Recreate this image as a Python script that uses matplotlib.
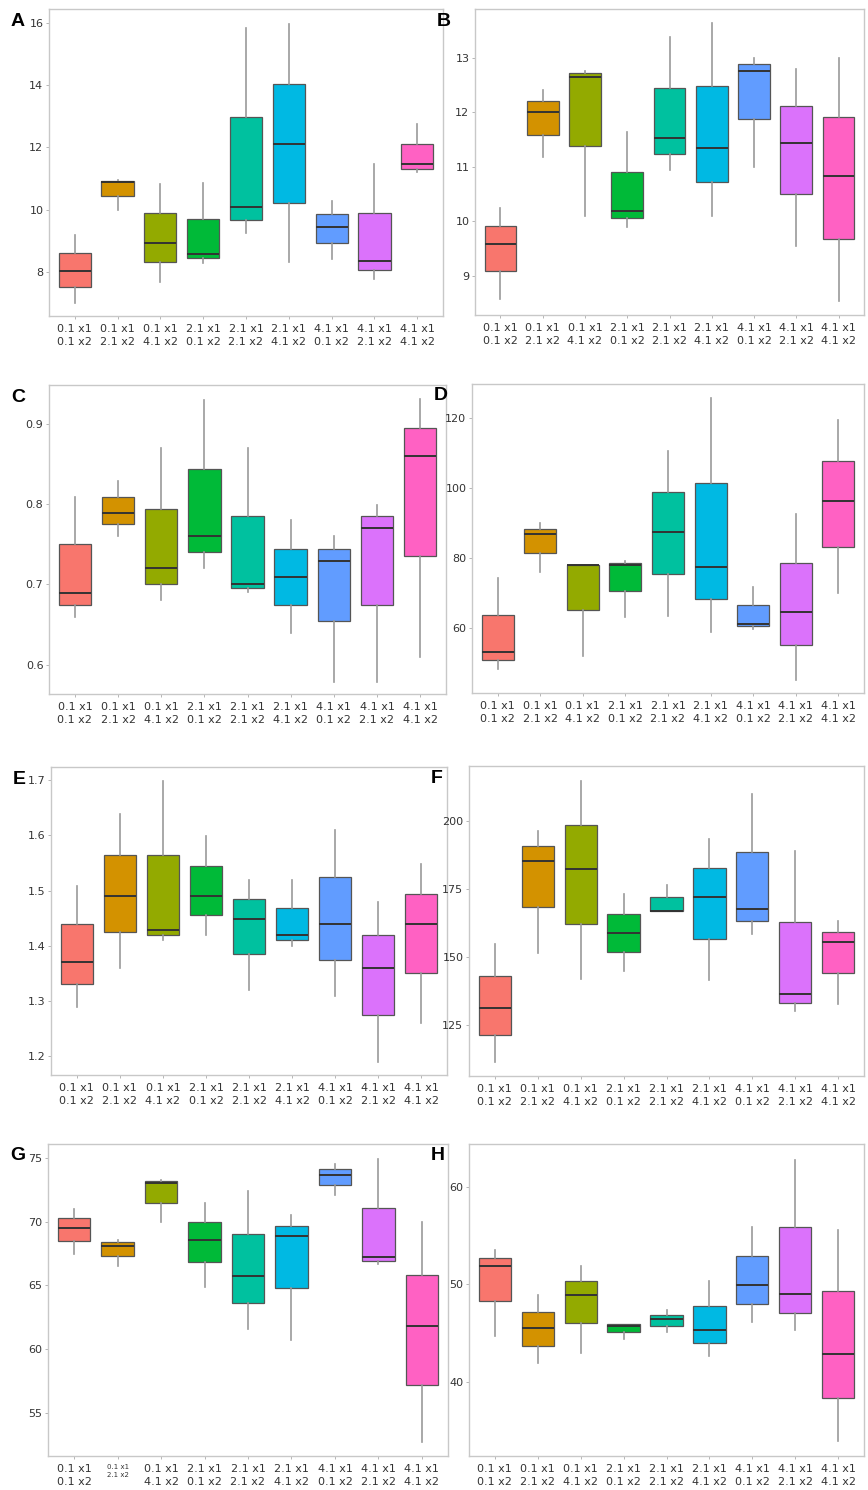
import matplotlib
matplotlib.use("Agg")
import matplotlib.pyplot as plt

# categorias (tratamentos)
categorias = ["0.1 x1\n0.1 x2", "0.1 x1\n2.1 x2", "0.1 x1\n4.1 x2",
              "2.1 x1\n0.1 x2", "2.1 x1\n2.1 x2", "2.1 x1\n4.1 x2",
              "4.1 x1\n0.1 x2", "4.1 x1\n2.1 x2", "4.1 x1\n4.1 x2"]
cores = ["#F8766D", "#D39200", "#93AA00", "#00BA38", "#00C19F",
         "#00B9E3", "#619CFF", "#DB72FB", "#FF61C3"]

# cada caixa: [whisker baixo, Q1, mediana, Q3, whisker alto]
painel_A = [[7.02, 7.53, 8.03, 8.60, 9.18], [9.98, 10.43, 10.88, 10.91, 10.96],
            [7.69, 8.31, 8.94, 9.89, 10.84], [8.30, 8.44, 8.57, 9.71, 10.86],
            [9.26, 9.67, 10.08, 12.96, 15.82], [8.31, 10.21, 12.12, 14.04, 15.97],
            [8.42, 8.93, 9.45, 9.86, 10.28], [7.79, 8.06, 8.35, 9.91, 11.48],
            [11.20, 11.32, 11.46, 12.10, 12.75]]
painel_B = [[8.57, 9.09, 9.59, 9.92, 10.25], [11.17, 11.58, 12.00, 12.21, 12.41],
            [10.09, 11.38, 12.65, 12.71, 12.76], [9.90, 10.05, 10.19, 10.91, 11.64],
            [10.93, 11.23, 11.52, 12.44, 13.37], [10.09, 10.72, 11.34, 12.48, 13.63],
            [11.00, 11.88, 12.76, 12.88, 13.00], [9.55, 10.49, 11.43, 12.11, 12.79],
            [8.54, 9.68, 10.82, 11.91, 12.99]]
painel_C = [[0.659, 0.674, 0.689, 0.750, 0.809], [0.760, 0.775, 0.789, 0.809, 0.829],
            [0.680, 0.700, 0.720, 0.794, 0.869], [0.720, 0.740, 0.760, 0.844, 0.929],
            [0.690, 0.695, 0.700, 0.785, 0.869], [0.640, 0.674, 0.709, 0.744, 0.780],
            [0.579, 0.654, 0.729, 0.744, 0.760], [0.579, 0.674, 0.770, 0.785, 0.799],
            [0.610, 0.735, 0.860, 0.895, 0.930]]
painel_D = [[48.5, 50.9, 53.2, 63.7, 74.3], [76.2, 81.5, 86.9, 88.4, 90.0],
            [52.2, 65.1, 78.1, 78.2, 78.2], [63.3, 70.7, 78.0, 78.7, 79.2],
            [63.4, 75.5, 87.5, 99.0, 110.7], [58.9, 68.3, 77.5, 101.6, 125.7],
            [59.8, 60.6, 61.3, 66.6, 71.8], [45.2, 55.1, 64.7, 78.6, 92.6],
            [70.1, 83.2, 96.3, 107.9, 119.4]]
painel_E = [[1.290, 1.330, 1.370, 1.440, 1.509], [1.360, 1.425, 1.490, 1.564, 1.639],
            [1.410, 1.420, 1.429, 1.564, 1.699], [1.420, 1.455, 1.490, 1.544, 1.599],
            [1.320, 1.385, 1.449, 1.484, 1.519], [1.400, 1.410, 1.420, 1.469, 1.519],
            [1.310, 1.375, 1.440, 1.525, 1.609], [1.190, 1.274, 1.359, 1.420, 1.479],
            [1.260, 1.350, 1.440, 1.494, 1.549]]
painel_F = [[111.5, 121.5, 131.5, 143.0, 154.7], [151.5, 168.3, 185.1, 190.6, 196.2],
            [142.1, 162.3, 182.4, 198.4, 214.7], [144.8, 151.9, 159.0, 166.0, 173.2],
            [166.8, 166.8, 167.1, 171.9, 176.6], [141.5, 156.6, 171.9, 182.7, 193.5],
            [158.6, 163.2, 167.8, 188.7, 209.8], [130.1, 133.3, 136.4, 162.7, 189.0],
            [132.9, 144.2, 155.5, 159.3, 163.2]]
painel_G = [[67.5, 68.5, 69.5, 70.3, 71.0], [66.5, 67.3, 68.1, 68.4, 68.6],
            [70.0, 71.5, 73.0, 73.2, 73.3], [64.9, 66.8, 68.6, 70.0, 71.5],
            [61.6, 63.6, 65.7, 69.0, 72.4], [60.7, 64.8, 68.9, 69.7, 70.5],
            [72.1, 72.9, 73.7, 74.1, 74.5], [66.7, 66.9, 67.2, 71.1, 74.9],
            [52.7, 57.2, 61.8, 65.8, 70.0]]
painel_H = [[44.7, 48.3, 51.9, 52.7, 53.5], [41.9, 43.7, 45.5, 47.2, 48.9],
            [43.0, 46.0, 48.9, 50.4, 51.9], [44.4, 45.1, 45.7, 45.9, 45.9],
            [45.1, 45.7, 46.5, 46.9, 47.4], [42.7, 44.0, 45.3, 47.8, 50.4],
            [46.1, 48.0, 49.9, 52.9, 55.9], [45.3, 47.1, 49.0, 55.9, 62.8],
            [33.9, 38.4, 42.9, 49.3, 55.6]]

ticks_A = [8, 10, 12, 14, 16]
ticks_B = [9, 10, 11, 12, 13]
ticks_C = [0.6, 0.7, 0.8, 0.9]
ticks_D = [60, 80, 100, 120]
ticks_E = [1.2, 1.3, 1.4, 1.5, 1.6, 1.7]
ticks_F = [125, 150, 175, 200]
ticks_G = [55, 60, 65, 70, 75]
ticks_H = [40, 50, 60]

W, H = 868, 1490
fig = plt.figure(figsize=(W / 100, H / 100), dpi=100)

# (letra, dados, ticks, ylim, caixa em pixels: esquerda, topo, direita, baixo)
paineis = [
    ("A", painel_A, ticks_A, (6.59, 16.44), (49, 9, 443, 316)),
    ("B", painel_B, ticks_B, (8.28, 13.89), (475, 9, 864, 315)),
    ("C", painel_C, ticks_C, (0.5635, 0.948), (49, 385, 446, 694)),
    ("D", painel_D, ticks_D, (41.5, 129.8), (472, 384, 864, 693)),
    ("E", painel_E, ticks_E, (1.166, 1.724), (51, 767, 447, 1075)),
    ("F", painel_F, ticks_F, (106.4, 220.1), (469, 766, 864, 1076)),
    ("G", painel_G, ticks_G, (51.6, 76.1), (48, 1144, 448, 1456)),
    ("H", painel_H, ticks_H, (32.4, 64.4), (469, 1144, 864, 1456)),
]

for letra, dados, ticks, ylim, (x0, y0, x1, y1) in paineis:
    ax = fig.add_axes([x0 / W, 1 - y1 / H, (x1 - x0) / W, (y1 - y0) / H])
    stats = []
    for d in dados:
        stats.append({"whislo": d[0], "q1": d[1], "med": d[2],
                      "q3": d[3], "whishi": d[4], "fliers": []})
    bp = ax.bxp(stats, positions=range(1, 10), widths=0.75, patch_artist=True,
                showcaps=False,
                boxprops=dict(edgecolor="#555555", linewidth=0.9),
                medianprops=dict(color="#333333", linewidth=1.4),
                whiskerprops=dict(color="#999999", linewidth=1.2))
    for caixa, cor in zip(bp["boxes"], cores):
        caixa.set_facecolor(cor)
    ax.set_xlim(0.4, 9.6)
    ax.set_ylim(*ylim)
    ax.set_yticks(ticks)
    ax.set_yticklabels([f"{t:g}" for t in ticks])
    ax.set_xticks(range(1, 10))
    ax.set_xticklabels(categorias, linespacing=1.35)
    ax.tick_params(labelsize=8, colors="#333333", length=2, width=0.6,
                   pad=2, color="#aaaaaa")
    ax.tick_params(axis="x", pad=4)
    for sp in ax.spines.values():
        sp.set_color("#c8c8c8")
        sp.set_linewidth(1.0)
    if letra == "G":
        ax.get_xticklabels()[1].set_fontsize(5)
    fig.text((x0 - 38) / W, 1 - (y0 + 12) / H, letra, fontsize=14,
             fontweight="bold", family="Liberation Sans", va="center",
             ha="left")

fig.savefig("out.png", dpi=100, facecolor="white")
